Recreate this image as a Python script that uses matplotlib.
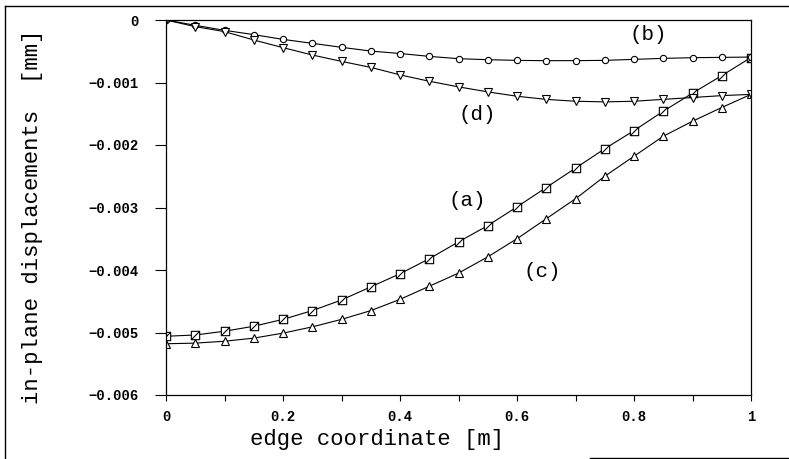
import numpy as np
import matplotlib
matplotlib.use("Agg")
import matplotlib.pyplot as plt
from matplotlib.path import Path
from matplotlib.lines import Line2D

# edge coordinate [m]
x = [0.0, 0.05, 0.1, 0.15, 0.2, 0.25, 0.3, 0.35, 0.4, 0.45, 0.5,
     0.55, 0.6, 0.65, 0.7, 0.75, 0.8, 0.85, 0.9, 0.95, 1.0]

# in-plane displacements [mm]
ya = [-0.00506, -0.00504, -0.00498, -0.00490, -0.00479, -0.00465, -0.00448,
      -0.00427, -0.00406, -0.00382, -0.00355, -0.00329, -0.00299, -0.00268,
      -0.00237, -0.00206, -0.00177, -0.00146, -0.00117, -0.00089, -0.00060]
yb = [0.0, -0.000085, -0.000165, -0.000234, -0.00031, -0.000373, -0.000437,
      -0.000497, -0.000536, -0.000582, -0.000619, -0.000635, -0.000646,
      -0.000651, -0.00065, -0.000646, -0.00063, -0.000614, -0.000603,
      -0.000598, -0.000593]
yc = [-0.00518, -0.00517, -0.00514, -0.00509, -0.00501, -0.00491, -0.00479,
      -0.00465, -0.00447, -0.00426, -0.00405, -0.00379, -0.00350, -0.00318,
      -0.00286, -0.00250, -0.00218, -0.00186, -0.00162, -0.00140, -0.00119]
yd = [0.0, -0.000106, -0.000186, -0.00032, -0.000442, -0.00056, -0.000662,
      -0.000758, -0.000878, -0.00098, -0.00107, -0.00115, -0.00122, -0.00127,
      -0.0013, -0.00131, -0.0013, -0.00127, -0.00124, -0.00121, -0.00119]

labels = ["(a)", "(b)", "(c)", "(d)"]
label_pos = [(0.515, -0.00289), (0.824, -0.00023), (0.643, -0.00403), (0.532, -0.00151)]

mono = "Liberation Mono"

# square with a diagonal stroke, like the scanned markers
sq = Path([(-1, -1), (1, -1), (1, 1), (-1, 1), (-1, -1), (-1, -1), (1, 1)],
          [Path.MOVETO, Path.LINETO, Path.LINETO, Path.LINETO, Path.CLOSEPOLY,
           Path.MOVETO, Path.LINETO])

fig = plt.figure(figsize=(7.89, 4.59), dpi=100)
ax = fig.add_axes([166/789, 1-395/459, 585/789, 375/459])

kw = dict(color="black", lw=0.8, mfc="white", mec="black", mew=0.8)
ax.plot(x, ya, marker=sq, ms=6, **kw)
ax.plot(x, yb, marker="o", ms=4.5, **kw)
ax.plot(x, yc, marker="^", ms=6, **kw)
ax.plot(x, yd, marker="v", ms=6, **kw)

for t, (tx, ty) in zip(labels, label_pos):
    ax.text(tx, ty, t, fontsize=15, family=mono, ha="center", va="center")

ax.set_xlim(0, 1)
ax.set_ylim(-0.006, 0)
ax.set_xticks(np.arange(0, 1.01, 0.2))
ax.set_xticks(np.arange(0.1, 1.0, 0.2), minor=True)
ax.set_xticklabels(["0", "0.2", "0.4", "0.6", "0.8", "1"])
yt = np.arange(-0.006, 0.0001, 0.001)
ax.set_yticks(yt)
ax.set_yticklabels(["\u22120.006", "\u22120.005", "\u22120.004", "\u22120.003",
                    "\u22120.002", "\u22120.001", "0"])
ax.tick_params(axis="x", which="both", direction="out", length=4, width=0.8, pad=7)
ax.tick_params(axis="y", direction="out", length=8, width=0.8, pad=12)
for lab in ax.get_xticklabels() + ax.get_yticklabels():
    lab.set_fontfamily(mono)
    lab.set_fontweight("bold")
    lab.set_fontsize(10)
for s in ax.spines.values():
    s.set_linewidth(0.9)

ax.set_xlabel("edge coordinate [m]", family=mono, fontsize=16, labelpad=6)
ax.xaxis.set_label_coords(0.36, -0.09)
ax.set_ylabel("in-plane displacements  [mm]", family=mono, fontsize=16)
ax.yaxis.set_label_coords(-0.21, 0.475)

# outer frame of the scanned figure
fig.add_artist(Line2D([5/789, 1], [1-6/459, 1-6/459], color="black", lw=1))
fig.add_artist(Line2D([5/789, 5/789], [0, 1-6/459], color="black", lw=1))
fig.add_artist(Line2D([590/789, 1], [1/459, 1/459], color="black", lw=1))

fig.savefig("out.png", dpi=100)
